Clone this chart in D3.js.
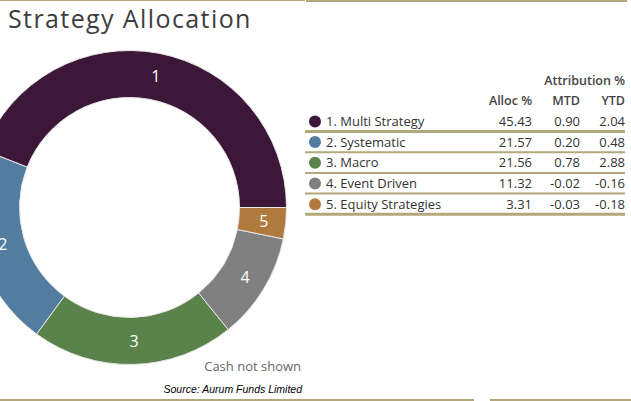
<!DOCTYPE html>
<html>
<head>
<meta charset="utf-8">
<script src="https://cdn.jsdelivr.net/npm/d3@7"></script>
<style>
  html, body { margin: 0; padding: 0; background: #fff; }
  svg { display: block; }
</style>
</head>
<body>
<svg id="chart" width="631" height="401"></svg>
<script>
const categories = ["1. Multi Strategy", "2. Systematic", "3. Macro", "4. Event Driven", "5. Equity Strategies"];
const sliceLabels = ["1", "2", "3", "4", "5"];
const allocPct = [45.43, 21.57, 21.56, 11.32, 3.31];
const mtdPct = [0.90, 0.20, 0.78, -0.02, -0.03];
const ytdPct = [2.04, 0.48, 2.88, -0.16, -0.18];
const colors = ["#3c1738", "#527da1", "#5a834b", "#808080", "#b0793d"];

const FONT = "'Open Sans', 'Noto Sans', sans-serif";
const GOLD = "#b3a77c";
const svg = d3.select("#chart");

// frame lines
svg.append("line").attr("x1", 0).attr("x2", 305).attr("y1", 0.5).attr("y2", 0.5)
  .attr("stroke", GOLD).attr("stroke-width", 1);
svg.append("line").attr("x1", 306).attr("x2", 627).attr("y1", 1).attr("y2", 1)
  .attr("stroke", GOLD).attr("stroke-width", 2);
svg.append("line").attr("x1", 0).attr("x2", 474).attr("y1", 400).attr("y2", 400)
  .attr("stroke", GOLD).attr("stroke-width", 2);
svg.append("line").attr("x1", 490).attr("x2", 631).attr("y1", 400).attr("y2", 400)
  .attr("stroke", GOLD).attr("stroke-width", 2);

// title
svg.append("text").attr("x", 8).attr("y", 28)
  .attr("font-family", FONT).attr("font-size", 25).attr("letter-spacing", 1.4)
  .attr("fill", "#3d3d3d")
  .text("Strategy Allocation");

// donut
const cx = 129.5, cy = 207.5, rOuter = 157, rInner = 110;
const data = categories.map((c, i) => ({ cat: c, lab: sliceLabels[i], v: allocPct[i], color: colors[i] }));
const pie = d3.pie().value(d => d.v).sort(null)
  .startAngle(Math.PI / 2).endAngle(Math.PI / 2 - 2 * Math.PI);
const arc = d3.arc().innerRadius(rInner).outerRadius(rOuter);
const g = svg.append("g").attr("transform", `translate(${cx},${cy})`);
const arcs = pie(data);
g.selectAll("path").data(arcs).join("path")
  .attr("d", arc).attr("fill", d => d.data.color)
  .attr("stroke", "#e6e6e6").attr("stroke-width", 1);
g.selectAll("text.lbl").data(arcs).join("text").attr("class", "lbl")
  .attr("transform", d => `translate(${arc.centroid(d)})`)
  .attr("text-anchor", "middle").attr("dx", 1.5).attr("dy", "0.36em")
  .attr("font-family", FONT).attr("font-size", 16).attr("fill", "#fff")
  .text(d => d.data.lab);

// notes
svg.append("text").attr("x", 301).attr("y", 371).attr("text-anchor", "end")
  .attr("font-family", FONT).attr("font-size", 13).attr("fill", "#666")
  .text("Cash not shown");
svg.append("text").attr("x", 302).attr("y", 393).attr("text-anchor", "end")
  .attr("font-family", "'Liberation Sans', Arial, sans-serif").attr("font-style", "italic")
  .attr("font-size", 10.5).attr("fill", "#000")
  .text("Source: Aurum Funds Limited");

// table
const colX = { alloc: 532, mtd: 580, ytd: 625 };
const hdr = svg.append("g").attr("font-family", FONT).attr("font-size", 12.5)
  .attr("font-weight", 600).attr("fill", "#444");
hdr.append("text").attr("x", 625).attr("y", 85).attr("text-anchor", "end").text("Attribution %");
hdr.append("text").attr("x", colX.alloc).attr("y", 105).attr("text-anchor", "end").text("Alloc %");
hdr.append("text").attr("x", colX.mtd).attr("y", 105).attr("text-anchor", "end").text("MTD");
hdr.append("text").attr("x", colX.ytd).attr("y", 105).attr("text-anchor", "end").text("YTD");

const rowY = d3.scalePoint().domain(categories).range([126, 126 + 4 * 20.7]);
const rows = svg.append("g").selectAll("g").data(data).join("g")
  .attr("transform", d => `translate(0,${rowY(d.cat)})`);
rows.append("circle").attr("cx", 315).attr("cy", -4.6).attr("r", 6).attr("fill", d => d.color);
const rt = rows.append("g").attr("font-family", FONT).attr("font-size", 13).attr("fill", "#333");
rt.append("text").attr("x", 326).attr("y", 0).text(d => d.cat);
rt.append("text").attr("x", colX.alloc).attr("text-anchor", "end").text((d, i) => allocPct[i].toFixed(2));
rt.append("text").attr("x", colX.mtd).attr("text-anchor", "end").text((d, i) => mtdPct[i].toFixed(2));
rt.append("text").attr("x", colX.ytd).attr("text-anchor", "end").text((d, i) => ytdPct[i].toFixed(2));
rows.append("line").attr("x1", 305).attr("x2", 625).attr("y1", 5.5).attr("y2", 5.5)
  .attr("stroke", GOLD).attr("stroke-width", (d, i) => (i === 0 || i === 4) ? 3 : 2);
</script>
</body>
</html>
